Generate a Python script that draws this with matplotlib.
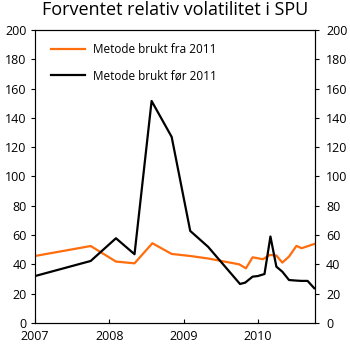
import matplotlib
matplotlib.use("Agg")
import matplotlib.pyplot as plt

plt.rcParams["font.family"] = ["Open Sans", "DejaVu Sans"]

title = "Forventet relativ volatilitet i SPU"
label_new = "Metode brukt fra 2011"
label_old = "Metode brukt før 2011"

# decimal year, value
t_new = [2007.0, 2007.75, 2008.09, 2008.34, 2008.58, 2008.84, 2009.09, 2009.33,
         2009.75, 2009.84, 2009.93, 2010.07, 2010.16, 2010.25, 2010.33, 2010.42,
         2010.52, 2010.59, 2010.76]
v_new = [45.7, 52.5, 41.9, 40.7, 54.4, 47.1, 45.7, 44.0,
         40.0, 37.3, 44.8, 43.5, 46.4, 46.0, 41.2, 45.3,
         52.6, 51.0, 53.9]

t_old = [2007.0, 2007.75, 2008.09, 2008.34, 2008.57, 2008.84, 2009.09, 2009.33,
         2009.76, 2009.83, 2009.93, 2010.0, 2010.09, 2010.17, 2010.25, 2010.33,
         2010.42, 2010.52, 2010.59, 2010.67, 2010.76]
v_old = [32.0, 42.3, 57.8, 46.9, 151.5, 127.0, 62.8, 52.0,
         26.6, 27.5, 31.6, 32.0, 33.4, 59.0, 38.4, 35.0,
         29.3, 28.9, 28.7, 28.7, 23.7]

years = [2007, 2008, 2009, 2010]
yticks = list(range(0, 201, 20))

fig = plt.figure(figsize=(3.5, 3.48), dpi=100)
ax = fig.add_axes([0.1, 0.072, 0.8, 0.842])

ax.plot(t_new, v_new, color="#ff6d0c", linewidth=1.6, label=label_new)
ax.plot(t_old, v_old, color="black", linewidth=1.6, label=label_old)

ax.set_xlim(2007, 2010.77)
ax.set_ylim(0, 200)
ax.set_xticks(years)
ax.set_xticklabels([str(y) for y in years], fontsize=9)
ax.set_yticks(yticks)
ax.tick_params(axis="y", labelsize=9, direction="out", length=3, width=0.8, pad=3)
ax.tick_params(axis="x", direction="in", length=3, width=0.8, pad=5)

ax2 = ax.twinx()
ax2.set_ylim(0, 200)
ax2.set_yticks(yticks)
ax2.tick_params(axis="y", labelsize=9, direction="out", length=3, width=0.8, pad=5)

for a in (ax, ax2):
    for s in a.spines.values():
        s.set_linewidth(0.8)
ax.spines["left"].set_color("#777777")

ax.legend(loc="upper left", frameon=False, fontsize=8.5, handlelength=2.9,
          handletextpad=0.7, labelspacing=1.1, borderaxespad=0.0,
          bbox_to_anchor=(0.04, 0.97))

fig.suptitle(title, fontsize=13, y=0.998)

fig.savefig("out.png", dpi=100)
